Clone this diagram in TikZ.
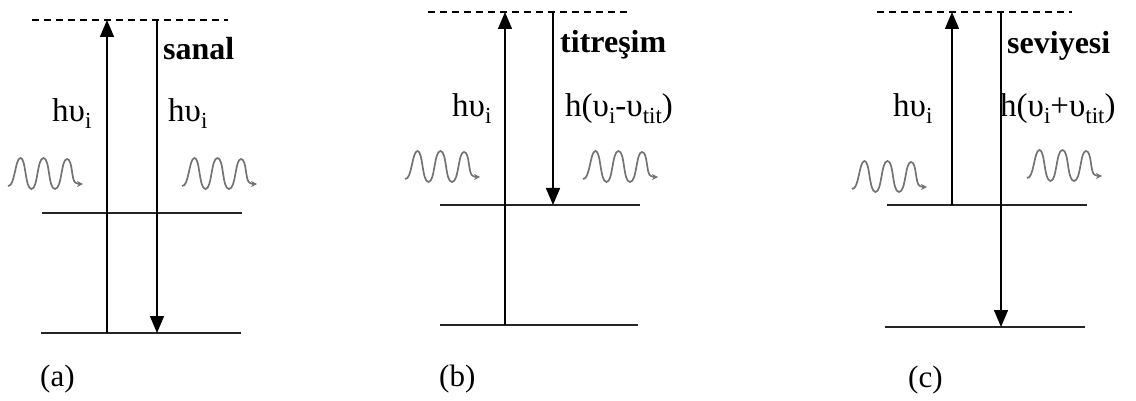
\documentclass[tikz,border=0pt]{standalone}
\usepackage{fontspec}
\setmainfont{Liberation Serif}
\usetikzlibrary{arrows.meta}
\newcommand{\mysub}[1]{\raisebox{-0.2em}{\fontsize{23}{23}\selectfont #1}}
\tikzset{
  lvl/.style={line width=1.4pt, black!85},
  virt/.style={line width=1.4pt, dash pattern=on 7pt off 5pt},
  trans/.style={line width=1.4pt, -{Triangle[length=17pt,width=14pt]}},
  lbl/.style={anchor=base west, inner sep=0pt, font=\fontsize{33}{33}\selectfont},
  blbl/.style={anchor=base west, inner sep=0pt, font=\fontsize{32}{32}\selectfont\bfseries},
  panelcap/.style={anchor=base west, inner sep=0pt, font=\fontsize{31}{31}\selectfont},
  photon/.pic={
    \draw[line width=1.7pt, black!55, -{Stealth[length=6pt,width=6pt]}]
      (0,0) .. controls (7,1) and (7,-28) .. (12.5,-28)
      .. controls (18,-28) and (17,3) .. (23.5,3)
      .. controls (30,3) and (29,-28) .. (35.5,-28)
      .. controls (42,-28) and (40,3) .. (47,3)
      .. controls (54,3) and (53,-27) .. (59,-27)
      .. controls (65,-27) and (63,-4) .. (68,-3)
      .. controls (71,-2) .. (75,-2);
  }
}
\begin{document}
\begin{tikzpicture}[x=1pt,y=-1pt]
\useasboundingbox (0,0) rectangle (1136,401);
% ---------- panel (a)
\coordinate (aDl) at (32,20);  \coordinate (aDr) at (228,20);
\coordinate (aMl) at (42,213); \coordinate (aMr) at (242,213);
\coordinate (aBl) at (41,333); \coordinate (aBr) at (241,333);
\coordinate (aU0) at (107,333); \coordinate (aU1) at (107,20);
\coordinate (aD0) at (157,20);  \coordinate (aD1) at (157,333);
\draw[virt] (aDl) -- (aDr);
\draw[lvl] (aMl) -- (aMr);
\draw[lvl] (aBl) -- (aBr);
\draw[trans] (aU0) -- (aU1);
\draw[trans] (aD0) -- (aD1);
\node[blbl] (aS) at (163,60) {sanal};
\node[lbl] (aL1) at (52,122) {hυ\mysub{i}};
\node[lbl] (aL2) at (168,122) {hυ\mysub{i}};
\pic at (8,186) {photon};
\pic at (182,186) {photon};
\node[panelcap] (aC) at (40,386) {(a)};
% ---------- panel (b)
\coordinate (bDl) at (428,12);  \coordinate (bDr) at (627,12);
\coordinate (bMl) at (440,205); \coordinate (bMr) at (640,205);
\coordinate (bBl) at (440,325); \coordinate (bBr) at (638,325);
\coordinate (bU0) at (505,325); \coordinate (bU1) at (505,12);
\coordinate (bD0) at (553,12);  \coordinate (bD1) at (553,205);
\draw[virt] (bDl) -- (bDr);
\draw[lvl] (bMl) -- (bMr);
\draw[lvl] (bBl) -- (bBr);
\draw[trans] (bU0) -- (bU1);
\draw[trans] (bD0) -- (bD1);
\node[blbl] (bS) at (560,53) {titreşim};
\node[lbl] (bL1) at (452,117) {hυ\mysub{i}};
\node[lbl] (bL2) at (565,117) {h(υ\mysub{i}-υ\mysub{tit})};
\pic at (405,179) {photon};
\pic at (583,179) {photon};
\node[panelcap] (bC) at (439,386) {(b)};
% ---------- panel (c)
\coordinate (cDl) at (877,12);  \coordinate (cDr) at (1072,12);
\coordinate (cMl) at (887,205); \coordinate (cMr) at (1087,205);
\coordinate (cBl) at (885,327); \coordinate (cBr) at (1085,327);
\coordinate (cU0) at (952,205); \coordinate (cU1) at (952,12);
\coordinate (cD0) at (1001,12); \coordinate (cD1) at (1001,327);
\draw[virt] (cDl) -- (cDr);
\draw[lvl] (cMl) -- (cMr);
\draw[lvl] (cBl) -- (cBr);
\draw[trans] (cU0) -- (cU1);
\draw[trans] (cD0) -- (cD1);
\node[blbl] (cS) at (1007,54) {seviyesi};
\node[lbl] (cL1) at (893,117) {hυ\mysub{i}};
\node[lbl] (cL2) at (1000,117) {h(υ\mysub{i}+υ\mysub{tit})};
\pic at (852,189) {photon};
\pic at (1027,178) {photon};
\node[panelcap] (cC) at (908,387) {(c)};
\end{tikzpicture}
\end{document}
